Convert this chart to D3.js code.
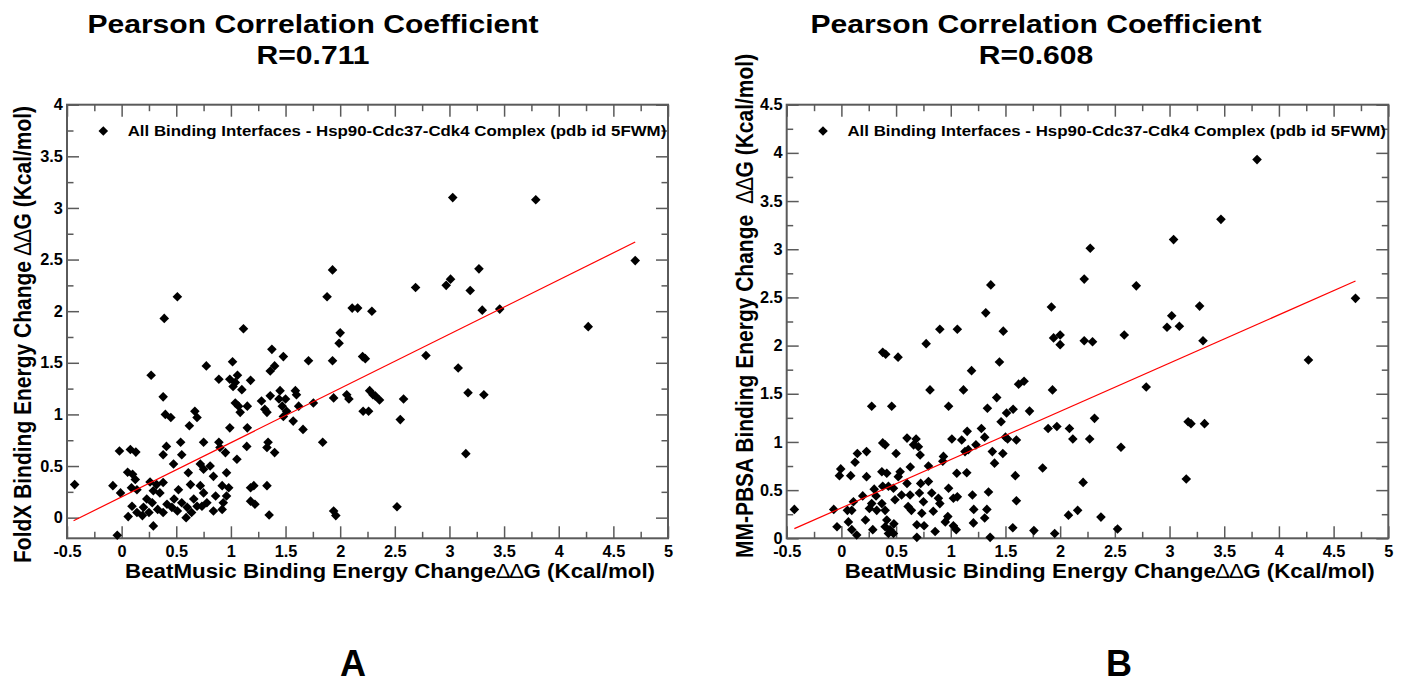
<!DOCTYPE html>
<html>
<head>
<meta charset="utf-8">
<script src="https://cdn.jsdelivr.net/npm/d3@7"></script>
<style>
  body { margin: 0; background: #fff; }
  svg text { font-family: 'Liberation Sans', Arial, sans-serif; font-weight: bold; fill: #000; }
</style>
</head>
<body>
<svg id="chart" width="1407" height="685"></svg>
<script>
// x ticks shared by both panels
const xTicks = [-0.5, 0, 0.5, 1, 1.5, 2, 2.5, 3, 3.5, 4, 4.5, 5];
const xMinor = [-0.25, 0.25, 0.75, 1.25, 1.75, 2.25, 2.75, 3.25, 3.75, 4.25, 4.75];
const yTicksA = [0, 0.5, 1, 1.5, 2, 2.5, 3, 3.5, 4];
const yMinorA = [0.25, 0.75, 1.25, 1.75, 2.25, 2.75, 3.25, 3.75];
const yTicksB = [0, 0.5, 1, 1.5, 2, 2.5, 3, 3.5, 4, 4.5];
const yMinorB = [0.25, 0.75, 1.25, 1.75, 2.25, 2.75, 3.25, 3.75, 4.25];

const legendText = 'All Binding Interfaces - Hsp90-Cdc37-Cdk4 Complex (pdb id 5FWM)';

// panel A: BeatMusic vs FoldX  [x, y]
const foldxPoints = [
  [-0.43,0.32],[-0.04,-0.17],[-0.08,0.31],[-0.02,0.645],[-0.01,0.24],[0.08,0.66],[0.13,0.635],
  [0.055,0.44],[0.10,0.42],[0.125,0.37],[0.09,0.29],[0.14,0.27],[0.095,0.11],[0.06,0.01],[0.14,0.05],
  [0.19,0.02],[0.27,1.38],[0.38,1.17],[0.39,1.93],[0.40,1.0],[0.45,0.97],[0.41,0.69],[0.38,0.61],
  [0.475,0.52],[0.54,0.73],[0.55,0.61],[0.26,0.345],[0.32,0.32],[0.38,0.34],[0.29,0.26],[0.35,0.24],
  [0.23,0.18],[0.28,0.145],[0.20,0.10],[0.25,0.05],[0.29,-0.08],[0.33,0.08],[0.38,0.05],[0.415,0.13],
  [0.46,0.10],[0.51,0.065],[0.48,0.18],[0.52,0.27],[0.55,0.145],[0.60,0.10],[0.59,0.0],[0.61,0.435],
  [0.63,0.32],[0.67,1.03],[0.69,0.97],[0.62,0.89],[0.66,0.18],[0.69,0.11],[0.64,0.05],[0.72,0.52],
  [0.75,0.47],[0.775,1.47],[0.75,0.73],[0.72,0.31],[0.75,0.24],[0.78,0.145],[0.735,0.11],[0.81,0.5],
  [0.84,0.40],[0.86,0.21],[0.84,0.065],[0.89,1.34],[0.89,0.73],[0.92,0.31],[0.93,0.145],[0.92,0.08],
  [0.96,0.435],[0.98,0.29],[0.96,0.21],[0.90,0.68],[0.95,0.63],[0.99,0.87],[1.015,1.51],[0.99,1.34],
  [1.04,1.31],[1.06,1.38],[1.02,1.27],[1.10,1.24],[1.04,1.11],[1.07,1.08],[1.085,1.02],[1.115,1.83],
  [1.15,1.08],[1.18,1.33],[1.15,0.87],[1.145,0.69],[1.055,0.565],[1.18,0.29],[1.21,0.31],[1.18,0.16],
  [1.22,0.13],[1.28,1.13],[1.31,1.05],[1.33,1.02],[1.33,0.68],[1.34,0.73],[1.40,0.63],[1.33,0.31],
  [1.35,0.026],[1.375,1.63],[1.36,1.42],[1.40,1.47],[1.48,1.56],[1.36,1.18],[1.44,1.15],[1.45,1.23],
  [1.47,1.08],[1.50,1.15],[1.51,1.03],[1.48,0.98],[1.57,0.935],[1.59,1.23],[1.60,1.19],[1.62,1.08],
  [1.66,0.855],[1.71,1.52],[1.755,1.11],[1.84,0.73],[1.93,1.52],[1.94,1.16],[1.94,0.065],[1.96,0.02],
  [2.0,1.79],[1.99,1.69],[2.06,1.19],[2.08,1.15],[2.11,2.03],[2.16,2.03],[0.51,2.14],[1.88,2.14],
  [1.93,2.40],[2.29,2.0],[2.69,2.23],[2.97,2.25],[3.01,2.31],[3.03,3.10],[3.19,2.20],[3.27,2.41],
  [3.30,2.01],[3.46,2.02],[3.79,3.08],[4.27,1.85],[4.70,2.49],[2.205,1.56],[2.23,1.54],[2.785,1.57],
  [3.08,1.45],[2.27,1.23],[2.30,1.19],[2.32,1.18],[2.36,1.14],[2.58,1.15],[3.17,1.21],[3.315,1.19],
  [2.21,1.03],[2.26,1.03],[2.55,0.95],[3.15,0.62],[2.52,0.106]
];
const foldxFit = [[-0.44, -0.03], [4.70, 2.67]];

// panel B: BeatMusic vs MM-PBSA  [x, y]
const mmpbsaPoints = [
  [-0.43,0.30],[-0.07,0.30],[-0.04,0.12],[-0.006,0.72],[-0.018,0.65],[0.085,0.65],[0.064,0.17],
  [0.095,0.09],[0.14,0.035],[0.055,0.29],[0.095,0.29],[0.11,0.38],[0.125,0.79],[0.146,0.88],[0.23,0.90],
  [0.195,0.44],[0.23,0.64],[0.277,1.37],[0.287,0.09],[0.22,0.19],[0.256,0.31],[0.30,0.51],[0.317,0.44],
  [0.323,0.29],[0.277,0.36],[0.378,1.93],[0.405,1.91],[0.378,0.99],[0.40,0.97],[0.37,0.69],[0.415,0.675],
  [0.378,0.54],[0.43,0.54],[0.37,0.36],[0.40,0.29],[0.415,0.19],[0.40,0.12],[0.445,0.09],[0.476,0.05],
  [0.43,0.05],[0.48,0.15],[0.46,1.37],[0.518,1.88],[0.5,0.88],[0.476,0.52],[0.52,0.64],[0.537,0.69],
  [0.49,0.40],[0.55,0.45],[0.6,1.04],[0.63,0.74],[0.6,0.57],[0.628,0.45],[0.61,0.33],[0.64,0.29],
  [0.69,0.01],[0.69,0.14],[0.683,1.03],[0.704,0.95],[0.66,0.97],[0.72,0.865],[0.725,0.57],[0.735,0.26],
  [0.713,0.47],[0.75,0.38],[0.775,2.02],[0.796,0.75],[0.81,1.54],[0.756,0.13],[0.796,0.59],[0.826,0.47],
  [0.84,0.28],[0.857,0.07],[0.90,2.17],[0.90,0.36],[0.887,0.415],[0.933,0.85],[0.927,0.80],[0.98,1.37],
  [0.98,0.52],[0.973,0.225],[0.95,0.17],[1.024,0.13],[1.05,0.09],[1.01,1.03],[1.024,0.415],[1.06,0.43],
  [1.06,2.17],[1.055,0.675],[1.10,1.02],[1.116,1.54],[1.13,0.90],[1.15,1.11],[1.16,0.92],[1.146,0.68],
  [1.19,1.74],[1.198,0.45],[1.21,0.30],[1.207,0.16],[1.23,0.97],[1.28,1.14],[1.31,0.21],[1.32,2.34],
  [1.335,1.35],[1.345,0.48],[1.33,0.30],[1.36,0.01],[1.31,1.05],[1.38,0.90],[1.40,0.78],[1.42,1.46],
  [1.445,1.83],[1.46,1.21],[1.48,2.15],[1.51,1.30],[1.50,1.05],[1.476,0.88],[1.52,1.03],[1.57,1.34],
  [1.59,0.65],[1.60,0.39],[1.567,0.11],[1.62,1.60],[1.67,1.63],[1.60,1.02],[1.72,1.32],[1.76,0.08],
  [1.84,0.73],[1.89,1.14],[1.92,2.40],[1.93,1.54],[1.94,2.08],[1.97,1.16],[1.95,0.05],[2.0,2.11],
  [2.0,2.01],[2.085,1.14],[2.116,1.03],[2.076,0.24],[2.16,0.29],[2.21,0.58],[1.366,2.63],[2.22,2.69],
  [2.275,3.01],[2.22,2.05],[2.296,2.04],[2.586,2.11],[2.696,2.62],[2.977,2.19],[3.02,2.31],[3.037,3.10],
  [3.09,2.20],[3.275,2.41],[3.306,2.05],[3.47,3.31],[3.80,3.93],[4.70,2.49],[4.27,1.85],[2.787,1.57],
  [2.27,1.03],[2.314,1.245],[2.556,0.945],[3.17,1.21],[3.196,1.19],[3.32,1.19],[3.153,0.615],
  [2.373,0.22],[2.525,0.097]
];
const mmpbsaFit = [[-0.43, 0.10], [4.70, 2.67]];

const panels = [
  { x0: 67, x1: 668, top: 104.7, bottom: 538.3, yDomain: [-0.2, 4], yTicks: yTicksA, yMinor: yMinorA,
    points: foldxPoints, fit: foldxFit, title: 'Pearson Correlation Coefficient', r: 'R=0.711',
    titleX: 313, yLabel: 'FoldX Binding Energy Change ', yLabelX: 31, yLabelY: 563, letter: 'A', letterX: 353 },
  { x0: 786.7, x1: 1388.3, top: 104.7, bottom: 538.3, yDomain: [0, 4.5], yTicks: yTicksB, yMinor: yMinorB,
    points: mmpbsaPoints, fit: mmpbsaFit, title: 'Pearson Correlation Coefficient', r: 'R=0.608',
    titleX: 1036, yLabel: 'MM-PBSA Binding Energy Change\u00a0 ', yLabelX: 753, yLabelY: 558, letter: 'B', letterX: 1119 }
];

const svg = d3.select('#chart');
const sx = 1.18;          // the picture is stretched sideways
const axisColor = '#5a5a5a';
const diamond = 'M0,-4.8L4.8,0L0,4.8L-4.8,0Z';

const styleAxis = (g) => {
  g.select('.domain').remove();
  g.selectAll('.tick line').attr('stroke', axisColor).attr('stroke-width', 1.5);
  g.selectAll('.tick text').style('font-size', '16px').attr('fill', '#000');
};

const drawPanel = (p) => {
  const w = p.x1 - p.x0, h = p.bottom - p.top;
  const x = d3.scaleLinear().domain([-0.5, 5]).range([0, w]);
  const y = d3.scaleLinear().domain(p.yDomain).range([h, 0]);
  const g = svg.append('g').attr('transform', `translate(${p.x0},${p.top})`);

  // ticks, all pointing inward
  g.append('g').attr('transform', `translate(0,${h})`)
    .call(d3.axisBottom(x).tickValues(xTicks).tickSize(-12).tickPadding(7).tickFormat(d => String(d)))
    .call(styleAxis)
    .selectAll('.tick text').attr('transform', 'scale(1.02,1)');
  g.append('g').attr('transform', `translate(0,${h})`)
    .call(d3.axisBottom(x).tickValues(xMinor).tickSize(-6.5).tickFormat(''))
    .call(styleAxis);
  g.append('g')
    .call(d3.axisTop(x).tickValues(xTicks).tickSize(-12).tickFormat(''))
    .call(styleAxis);
  g.append('g')
    .call(d3.axisTop(x).tickValues(xMinor).tickSize(-6.5).tickFormat(''))
    .call(styleAxis);
  g.append('g')
    .call(d3.axisLeft(y).tickValues(p.yTicks).tickSize(-12).tickPadding(4).tickFormat(d => String(d)))
    .call(styleAxis)
    .selectAll('.tick text').attr('transform', 'scale(1.02,1)');
  g.append('g')
    .call(d3.axisLeft(y).tickValues(p.yMinor).tickSize(-6.5).tickFormat(''))
    .call(styleAxis);
  g.append('g').attr('transform', `translate(${w},0)`)
    .call(d3.axisRight(y).tickValues(p.yTicks).tickSize(-12).tickFormat(''))
    .call(styleAxis);
  g.append('g').attr('transform', `translate(${w},0)`)
    .call(d3.axisRight(y).tickValues(p.yMinor).tickSize(-6.5).tickFormat(''))
    .call(styleAxis);

  g.append('rect')
    .attr('width', w).attr('height', h)
    .attr('fill', 'none').attr('stroke', axisColor).attr('stroke-width', 2);

  // points
  g.selectAll('.pt')
    .data(p.points)
    .enter().append('path')
    .attr('class', 'pt')
    .attr('d', diamond)
    .attr('transform', d => `translate(${x(d[0])},${y(d[1])})`)
    .attr('fill', '#000');

  // regression line
  g.append('path')
    .datum(p.fit)
    .attr('d', d3.line().x(d => x(d[0])).y(d => y(d[1])))
    .attr('fill', 'none').attr('stroke', '#ff0000').attr('stroke-width', 1.2);

  // legend
  g.append('path').attr('d', diamond).attr('transform', 'translate(36.3,26.3)').attr('fill', '#000');
  g.append('text')
    .attr('transform', `translate(60.7,31.5) scale(${sx},1)`)
    .style('font-size', '14.3px')
    .text(legendText);

  // titles
  svg.append('text')
    .attr('transform', `translate(${p.titleX},33) scale(${sx},1)`)
    .attr('text-anchor', 'middle').style('font-size', '25.5px')
    .text(p.title);
  svg.append('text')
    .attr('transform', `translate(${p.titleX},64) scale(${sx},1)`)
    .attr('text-anchor', 'middle').style('font-size', '25.5px')
    .text(p.r);

  // x label
  const xl = svg.append('text')
    .attr('transform', `translate(${p.x0 + 58},578) scale(1.09,1)`)
    .style('font-size', '20.5px');
  xl.append('tspan').text('BeatMusic Binding Energy Change');
  xl.append('tspan').style('font-weight', 'normal').text('\u2206\u2206');
  xl.append('tspan').text('G (Kcal/mol)');

  // y label
  const yl = svg.append('text')
    .attr('transform', `translate(${p.yLabelX},${p.yLabelY}) scale(${sx},1) rotate(-90)`)
    .style('font-size', '21px');
  yl.append('tspan').text(p.yLabel);
  yl.append('tspan').style('font-weight', 'normal').text('\u2206\u2206');
  yl.append('tspan').text('G (Kcal/mol)');

  // panel letter
  svg.append('text')
    .attr('x', p.letterX).attr('y', 676)
    .attr('text-anchor', 'middle').style('font-size', '36px')
    .text(p.letter);
};

panels.forEach(drawPanel);
</script>
</body>
</html>
